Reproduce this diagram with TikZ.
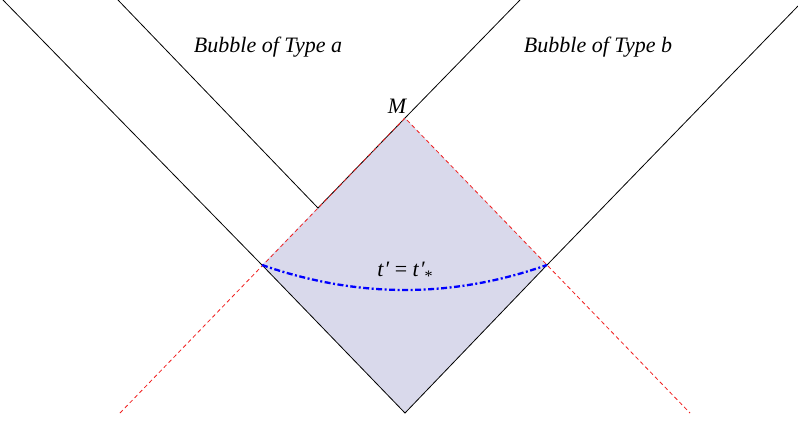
\documentclass[tikz,border=0pt]{standalone}
\usepackage{fontspec}
\setmainfont{Liberation Serif}
\definecolor{lav}{RGB}{217,217,235}
\definecolor{redd}{RGB}{240,30,30}
\begin{document}
\begin{tikzpicture}[x=1pt,y=-1pt,
  wl/.style={black,line width=0.8pt},
  nul/.style={redd,line width=0.8pt,dash pattern=on 4pt off 3pt},
  lbl/.style={font=\itshape\fontsize{22}{26}\selectfont,inner sep=0pt}]
\useasboundingbox (0,0) rectangle (798,421);
\coordinate (B) at (405,413);
\coordinate (L) at (262,265);
\coordinate (R) at (547,265);
\coordinate (M) at (405,118);
\coordinate (J) at (318,208);
\coordinate (TL1) at (3,0);
\coordinate (TL2) at (118,0);
\coordinate (TR1) at (520,0);
\coordinate (TR2) at (798,6);
\coordinate (EL) at (120,413);
\coordinate (ER) at (690,413);
\fill[lav] (B) -- (L) -- (M) -- (R) -- cycle;
\draw[wl] (TL1) -- (L) -- (B) -- (R) -- (TR2);
\draw[wl] (TL2) -- (J) -- (M) -- (TR1);
\draw[nul] (EL) -- (M) -- (ER);
\draw[blue,line width=2.3pt,dash pattern=on 6pt off 2.5pt on 2pt off 2.5pt] (L) .. controls (357.7,298.3) and (452.3,298.3) .. (R);
\node[lbl] (ta) at (268,47) {Bubble of Type a};
\node[lbl] (tb) at (598,47) {Bubble of Type b};
\node[lbl] (m) at (397,106) {M};
\node[lbl] (t) at (405,272) {t\kern1pt\char"2032{} {\upshape =} t\kern1pt\char"2032\raisebox{-5pt}{\fontsize{16}{18}\selectfont\upshape *}};
\end{tikzpicture}
\end{document}
